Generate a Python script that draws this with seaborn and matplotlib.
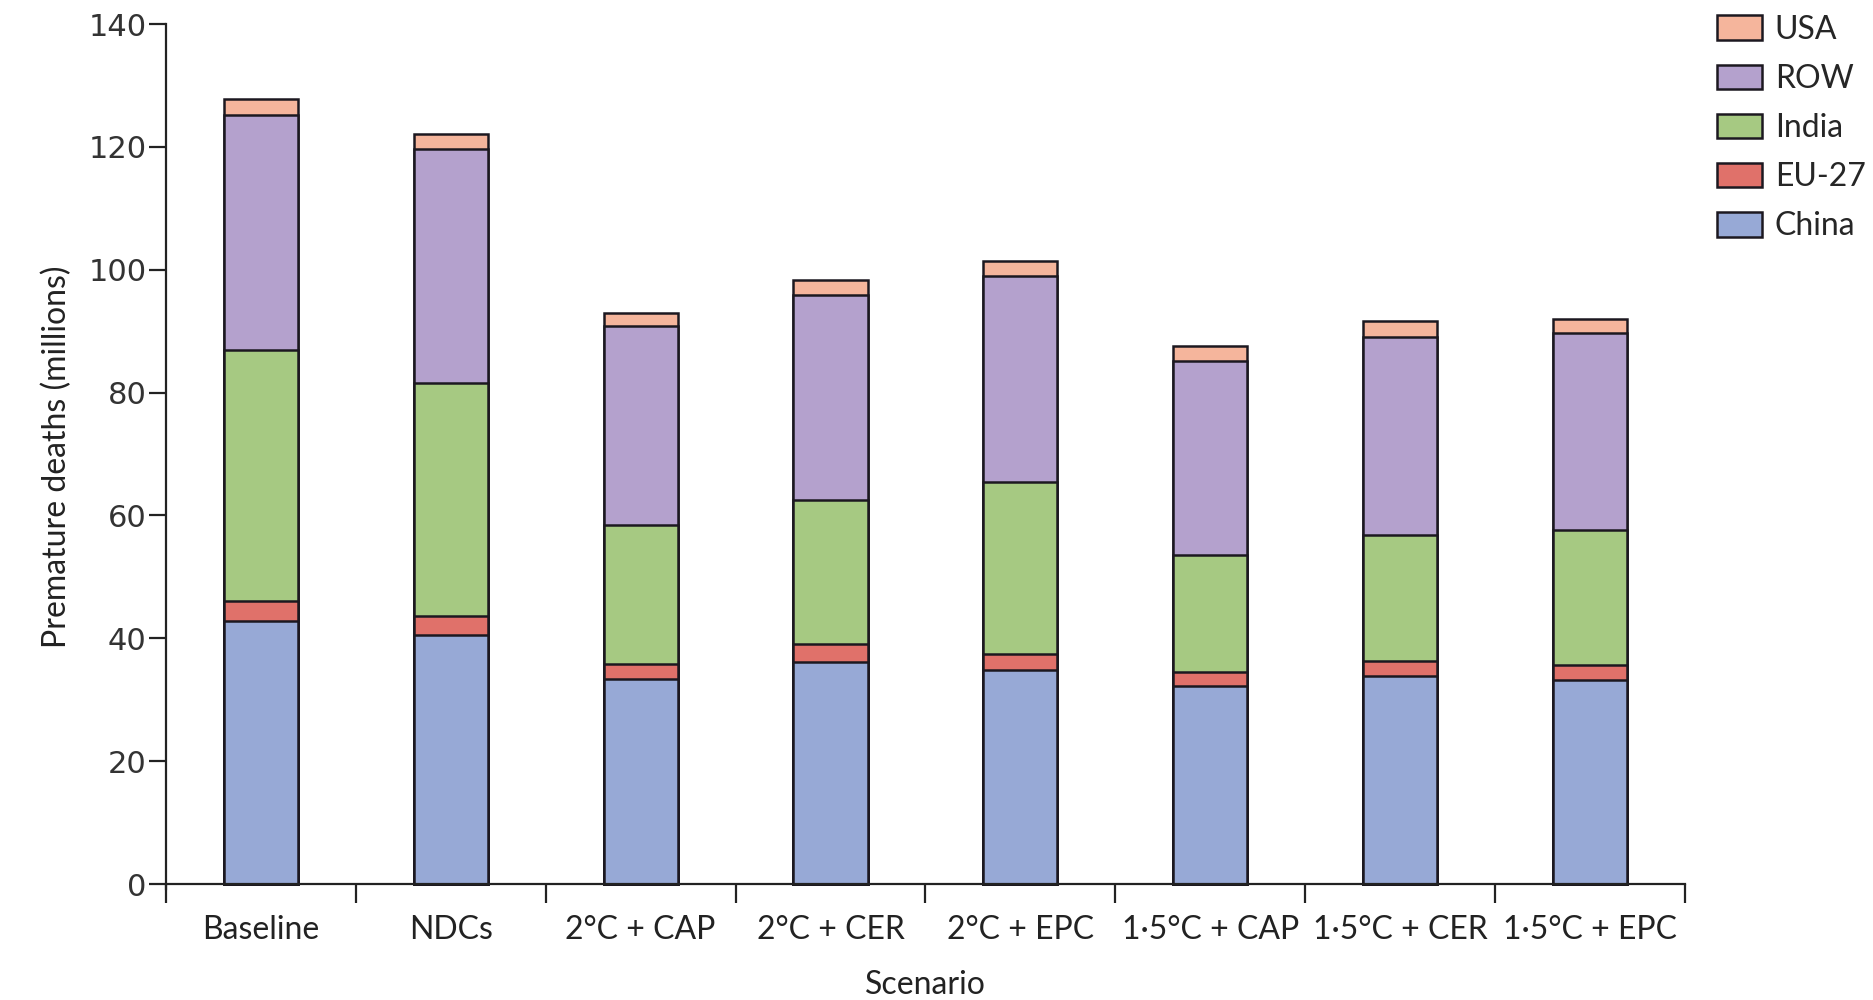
import seaborn as sns
import numpy as np
import pandas as pd
import matplotlib.pyplot as plt
from matplotlib.patches import Patch

scenarios = ["Baseline", "NDCs", "2°C + CAP", "2°C + CER", "2°C + EPC",
             "1·5°C + CAP", "1·5°C + CER", "1·5°C + EPC"]

china = [42.9, 40.6, 33.4, 36.1, 34.8, 32.2, 33.8, 33.2]
eu27 = [3.1, 3.1, 2.5, 2.9, 2.7, 2.4, 2.5, 2.5]
india = [41.0, 37.9, 22.5, 23.5, 27.9, 19.0, 20.6, 22.0]
row = [38.2, 38.0, 32.5, 33.4, 33.6, 31.6, 32.2, 32.0]
usa = [2.6, 2.5, 2.1, 2.4, 2.4, 2.4, 2.6, 2.3]

regions = ["China", "EU-27", "India", "ROW", "USA"]
colors = {"China": "#97a9d6", "EU-27": "#e0716a", "India": "#a6c982",
          "ROW": "#b4a1cd", "USA": "#f5b59c"}

df = pd.DataFrame({"Scenario": scenarios, "China": china, "EU-27": eu27,
                   "India": india, "ROW": row, "USA": usa})
cum = df[regions].cumsum(axis=1)

sns.set_style("white")
plt.rcParams['font.family'] = ['Lato', 'DejaVu Sans']

fig = plt.figure(figsize=(18.73, 10), dpi=100)
ax = fig.add_axes([0.0886, 0.111, 0.811, 0.865])

# stacked bars: draw the cumulative totals from the top series down
for reg in regions[::-1]:
    sns.barplot(x=df["Scenario"], y=cum[reg], order=scenarios, color=colors[reg],
                saturation=1, width=0.39, edgecolor="#1c1820", linewidth=1.8, ax=ax)

ax.set_xlim(-0.5, 7.5)
ax.set_ylim(-0.8, 140)
ax.set_yticks(np.arange(0, 141, 20))
ax.spines["top"].set_visible(False)
ax.spines["right"].set_visible(False)
ax.spines["bottom"].set_position(("data", 0))
for s in ["left", "bottom"]:
    ax.spines[s].set_linewidth(1.6)
    ax.spines[s].set_color("#222222")

ax.set_xticks(np.arange(-0.5, 8, 1), minor=True)
ax.tick_params(axis="x", which="major", bottom=True, length=0, pad=22, labelsize=23,
               colors="#222222")
ax.tick_params(axis="x", which="minor", bottom=True, length=14, width=1.6,
               color="#222222", direction="out")
ax.tick_params(axis="y", left=True, length=12, width=1.6, color="#222222", labelsize=23,
               labelcolor="#333333", pad=2)
for lab in ax.get_yticklabels():
    lab.set_family("DejaVu Sans")
    lab.set_fontsize(22)

ax.set_xlabel("Scenario", fontsize=23, labelpad=18, color="#222222")
ax.set_ylabel("Premature deaths (millions)", fontsize=23, labelpad=12, color="#222222")

handles = [Patch(facecolor=colors[r], edgecolor="#1c1820", linewidth=1.8, label=r)
           for r in regions[::-1]]
fig.legend(handles=handles, loc="upper left", bbox_to_anchor=(0.91, 0.998),
           frameon=False, fontsize=23, handlelength=1.4, handleheight=0.8,
           handletextpad=0.4, labelspacing=0.6, borderaxespad=0)

fig.savefig("out.png", dpi=100)
